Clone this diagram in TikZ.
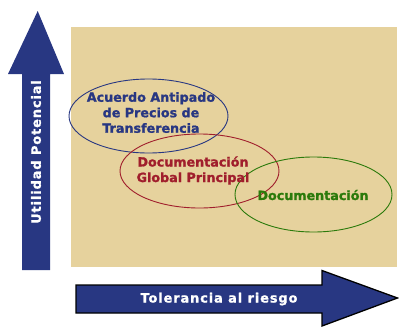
\documentclass[tikz,border=0pt]{standalone}
\usepackage{fontspec}
\setmainfont{DejaVu Sans}
\newfontfamily\heavyfont{DejaVu Sans}[UprightFont=*,BoldFont=* Bold,BoldFeatures={FakeBold=1.3}]
\newfontfamily\arrowfont{DejaVu Sans}[UprightFont=*,BoldFont=* Bold,BoldFeatures={FakeBold=1.3},LetterSpace=7]
\usetikzlibrary{shapes.geometric}
\definecolor{navy}{RGB}{40,55,130}
\definecolor{beige}{RGB}{230,210,157}
\definecolor{dred}{RGB}{160,30,44}
\definecolor{dgreen}{RGB}{43,122,11}
\tikzset{
  ell/.style={ellipse, draw, line width=0.9pt, minimum width=159pt, minimum height=74pt, inner sep=0pt},
  elltext/.style={font=\fontsize{12.7}{15.5}\selectfont\heavyfont\bfseries, align=center, inner sep=0pt},
  arrtext/.style={font=\fontsize{12.9}{15}\selectfont\arrowfont\bfseries, text=white, inner sep=0pt},
}
\begin{document}
\begin{tikzpicture}[x=1pt,y=-1pt]
\useasboundingbox (0,0) rectangle (399,327);
% background panel
\fill[beige] (71,27) rectangle (397,267);
% vertical arrow
\fill[navy] (22,270) -- (22,74) -- (8,74) -- (37.7,11) -- (64,74) -- (50,74) -- (50,270) -- cycle;
\node[arrtext, rotate=90] (ylab) at (36,152) {Utilidad Potencial};
% horizontal arrow
\draw[fill=navy, draw=black, line width=1.3pt, line join=miter] (76,285) -- (322,285) -- (322,270.5) -- (397.5,298) -- (322,326) -- (322,313) -- (76,313) -- cycle;
\node[arrtext] (xlab) at (219,299) {Tolerancia al riesgo};
% ellipses
\node[ell, draw=navy] (apa) at (148.5,116) {};
\node[ell, draw=dred] (dgp) at (199.5,171) {};
\node[ell, draw=dgreen, minimum width=157pt, minimum height=75pt] (doc) at (313.5,194.5) {};
% texts
\node[elltext, text=navy] (apat) at (151,112.5) {Acuerdo Antipado\\de Precios de\\Transferencia};
\node[elltext, text=dred] (dgpt) at (193,170.5) {Documentación\\Global Principal};
\node[elltext, text=dgreen] (doct) at (313,195) {Documentación};
\end{tikzpicture}
\end{document}
